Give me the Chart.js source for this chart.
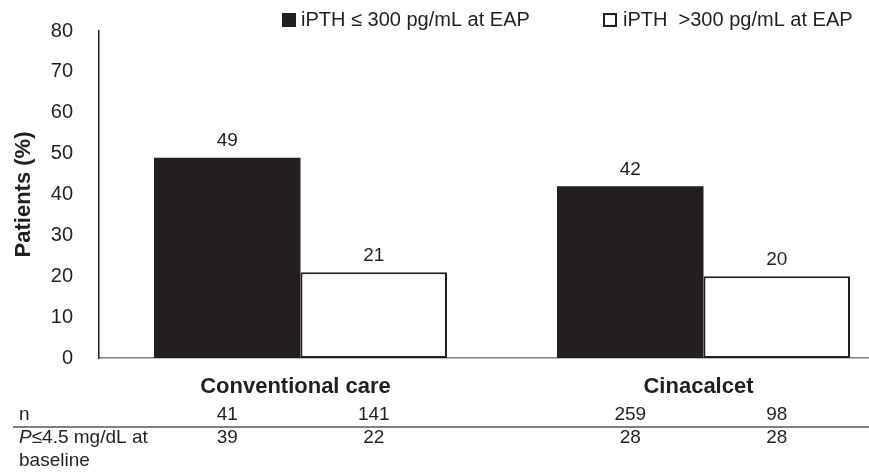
<!DOCTYPE html>
<html>
<head>
<meta charset="utf-8">
<script src="https://cdn.jsdelivr.net/npm/chart.js@4.4.0/dist/chart.umd.min.js"></script>
<style>
  html, body { margin: 0; padding: 0; background: #fff; overflow: hidden; }
  #wrap { position: relative; width: 910px; height: 475px; }
</style>
</head>
<body>
<div id="wrap"><canvas id="chart"></canvas></div>
<script>
// data
const categories = ['Conventional care', 'Cinacalcet'];
const seriesLabels = ['iPTH \u2264 300 pg/mL at EAP', 'iPTH  >300 pg/mL at EAP'];
const lowPTH = [49, 42];
const highPTH = [21, 20];
const nLow = [41, 259];
const nHigh = [141, 98];
const pLow = [39, 28];
const pHigh = [22, 28];
const yMin = 0, yMax = 80, yStep = 10;

const INK = '#231f20';
const FONT = '"Liberation Sans", Arial, Helvetica, sans-serif';

// value labels above each bar
const valueLabels = {
    id: 'valueLabels',
    afterDatasetsDraw(chart) {
        const ctx = chart.ctx;
        ctx.save();
        ctx.fillStyle = INK;
        ctx.font = '19px ' + FONT;
        ctx.textAlign = 'center';
        ctx.textBaseline = 'bottom';
        chart.data.datasets.forEach((ds, i) => {
            chart.getDatasetMeta(i).data.forEach((bar, j) => {
                ctx.fillText(String(ds.data[j]), bar.x, bar.y - 7);
            });
        });
        ctx.restore();
    }
};

// legend at the top right
const topLegend = {
    id: 'topLegend',
    afterDraw(chart) {
        const ctx = chart.ctx;
        const labels = chart.data.datasets.map(d => d.label);
        ctx.save();
        ctx.font = '20px ' + FONT;
        ctx.textBaseline = 'middle';
        ctx.fillStyle = INK;
        ctx.fillRect(282, 13, 14, 14);
        ctx.fillText(labels[0], 301, 20);
        ctx.strokeStyle = INK;
        ctx.lineWidth = 2;
        ctx.strokeRect(604, 14, 12, 12);
        ctx.fillText(labels[1], 623, 20);
        ctx.restore();
    }
};

// n / P rows under the axis, aligned with the bars
const table = {
    id: 'table',
    afterDraw(chart) {
        const ctx = chart.ctx;
        const rows = [[nLow, nHigh], [pLow, pHigh]];
        const rowY = [415, 438];
        const x0 = 19;
        ctx.save();
        ctx.fillStyle = INK;
        ctx.font = '19px ' + FONT;
        ctx.textBaseline = 'middle';
        ctx.textAlign = 'left';
        ctx.fillText('n', x0, rowY[0]);
        ctx.font = 'italic 19px ' + FONT;
        ctx.fillText('P', x0, rowY[1]);
        const pw = ctx.measureText('P').width;
        ctx.font = '19px ' + FONT;
        ctx.fillText('\u22644.5 mg/dL at', x0 + pw, rowY[1]);
        ctx.fillText('baseline', x0, 461);

        ctx.strokeStyle = '#808080';
        ctx.lineWidth = 2;
        ctx.beginPath();
        ctx.moveTo(13, 427);
        ctx.lineTo(chart.width, 427);
        ctx.stroke();

        ctx.textAlign = 'center';
        rows.forEach((row, r) => {
            row.forEach((vals, i) => {
                chart.getDatasetMeta(i).data.forEach((bar, j) => {
                    ctx.fillText(String(vals[j]), bar.x, rowY[r]);
                });
            });
        });
        ctx.restore();
    }
};

new Chart(document.getElementById('chart'), {
    type: 'bar',
    data: {
        labels: categories,
        datasets: [{
            label: seriesLabels[0],
            data: lowPTH,
            backgroundColor: INK,
            borderWidth: 0
        }, {
            label: seriesLabels[1],
            data: highPTH,
            backgroundColor: '#ffffff',
            borderColor: INK,
            borderWidth: 2,
            borderSkipped: false
        }]
    },
    options: {
        responsive: true,
        maintainAspectRatio: false,
        animation: false,
        layout: { padding: { top: 31, right: 5, left: 0, bottom: 0 } },
        datasets: { bar: { barPercentage: 1, categoryPercentage: 0.727 } },
        plugins: {
            legend: { display: false },
            tooltip: { enabled: false }
        },
        scales: {
            x: {
                grid: { display: false, drawTicks: false },
                border: { display: true, color: '#808080', width: 1.5 },
                ticks: {
                    color: INK,
                    padding: 16,
                    labelOffset: -5,
                    font: { family: FONT, size: 22, weight: 'bold' }
                },
                afterFit(s) { s.height = 117; }
            },
            y: {
                min: yMin,
                max: yMax,
                grid: { display: false, drawTicks: false },
                border: { display: true, color: INK, width: 1.5 },
                ticks: {
                    stepSize: yStep,
                    color: INK,
                    padding: 26,
                    font: { family: FONT, size: 20 }
                },
                title: {
                    display: true,
                    text: 'Patients (%)',
                    color: INK,
                    padding: { top: 11, bottom: 0 },
                    font: { family: FONT, size: 22, weight: 'bold' }
                },
                afterFit(s) {
                    s.width = 99;
                    // tick padding otherwise pushes the plot top down
                    s.paddingTop = 0;
                    s.paddingBottom = 0;
                }
            }
        }
    },
    plugins: [valueLabels, topLegend, table]
});
</script>
</body>
</html>
